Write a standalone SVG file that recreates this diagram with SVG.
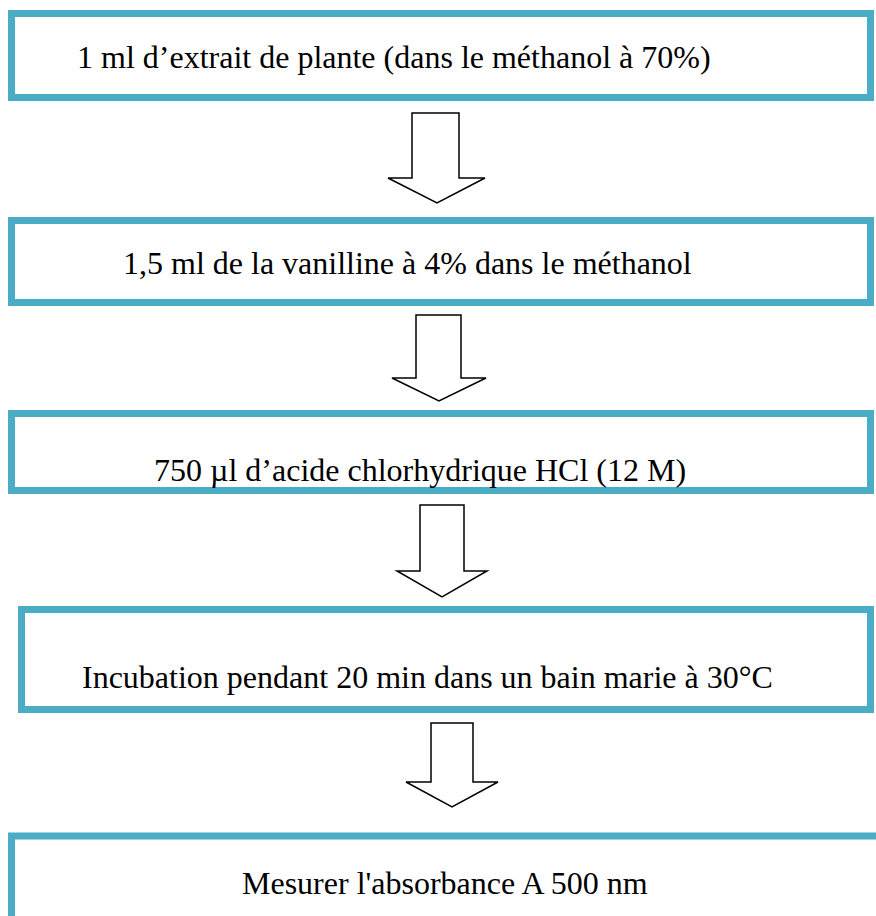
<svg xmlns="http://www.w3.org/2000/svg" width="876" height="916" viewBox="0 0 876 916">
<style>
.box{fill:#fff;stroke:#4BACC6;stroke-width:7}
.arr{fill:#fff;stroke:#000;stroke-width:1.5;stroke-linejoin:miter}
text{font-family:"Liberation Serif","Times New Roman",serif;font-size:32px;fill:#000}
</style>
<rect width="876" height="916" fill="#fff"/>
<g id="connectors">
<polygon class="arr" points="412,113 459,113 459,178 485,178 437,203 388,178 412,178"/>
<polygon class="arr" points="416,315 461,315 461,378 486,378 439,401 392,378 416,378"/>
<polygon class="arr" points="420,505 464,505 464,571 487,571 442,597 397,571 420,571"/>
<polygon class="arr" points="431,723 473,723 473,782 498,782 452,807 406,782 431,782"/>
</g>
<g id="n1"><rect class="box" x="11.5" y="13.5" width="859" height="84"/><text x="77" y="68">1 ml d’extrait de plante (dans le méthanol à 70%)</text></g>
<g id="n2"><rect class="box" x="11.5" y="220.5" width="859" height="82"/><text x="123" y="274">1,5 ml de la vanilline à 4% dans le méthanol</text></g>
<g id="n3"><rect class="box" x="11.5" y="413.5" width="859" height="77"/><text x="154" y="481">750 µl d’acide chlorhydrique HCl (12 M)</text></g>
<g id="n4"><rect class="box" x="21.5" y="609.5" width="849" height="100"/><text x="82" y="688">Incubation pendant 20 min dans un bain marie à 30°C</text></g>
<g id="n5"><rect class="box" x="11.5" y="836" width="880" height="100"/><text x="242" y="894">Mesurer l'absorbance A 500 nm</text></g>
</svg>
